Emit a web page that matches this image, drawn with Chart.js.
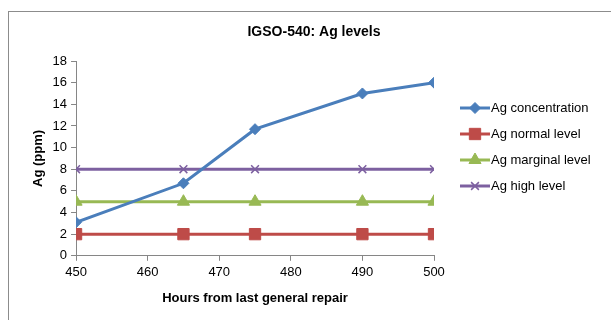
<!DOCTYPE html>
<html lang="en">
<head>
    <meta charset="UTF-8">
    <title>IGSO-540: Ag levels</title>
    <script src="https://cdn.jsdelivr.net/npm/chart.js"></script>
    <style>
        body {
            margin: 0;
            background-color: #ffffff;
            font-family: "Liberation Sans", Arial, sans-serif;
        }
        #frame {
            position: absolute;
            left: 8px;
            top: 11px;
            width: 620px;
            height: 330px;
            border: 1px solid #8c8c8c;
        }
        #wrap {
            position: absolute;
            left: 0;
            top: 0;
            width: 611px;
            height: 320px;
        }
    </style>
</head>
<body>
    <div id="frame"></div>
    <div id="wrap"><canvas id="agChart"></canvas></div>

    <script>
        const chartTitle = 'IGSO-540: Ag levels';
        const hours = [450, 465, 475, 490, 500];
        const agConcentration = [3.1, 6.7, 11.7, 15, 16];
        const agNormal = [2, 2, 2, 2, 2];
        const agMarginal = [5, 5, 5, 5, 5];
        const agHigh = [8, 8, 8, 8, 8];
        const seriesNames = ['Ag concentration', 'Ag normal level', 'Ag marginal level', 'Ag high level'];

        const toPoints = vals => hours.map((h, i) => ({ x: h, y: vals[i] }));

        // title + legend drawn by hand, the spreadsheet puts the title off centre
        const sideLegend = {
            id: 'sideLegend',
            afterDraw(chart) {
                const ctx = chart.ctx;
                ctx.save();
                ctx.fillStyle = '#000';
                ctx.font = 'bold 14px "Liberation Sans", Arial, sans-serif';
                ctx.textAlign = 'center';
                ctx.textBaseline = 'middle';
                ctx.fillText(chartTitle, 314, 32);
                ctx.restore();

                const x0 = 460, y0 = 108, gap = 26;
                chart.data.datasets.forEach((ds, i) => {
                    const y = y0 + i * gap;
                    ctx.save();
                    ctx.strokeStyle = ds.borderColor;
                    ctx.fillStyle = ds.borderColor;
                    ctx.lineWidth = 3;
                    ctx.beginPath();
                    ctx.moveTo(x0, y);
                    ctx.lineTo(x0 + 30, y);
                    ctx.stroke();
                    ctx.lineWidth = ds.pointBorderWidth;
                    Chart.helpers.drawPoint(ctx, {
                        pointStyle: ds.pointStyle,
                        radius: ds.pointRadius,
                        borderWidth: ds.pointBorderWidth
                    }, x0 + 15, y);
                    ctx.fillStyle = '#000';
                    ctx.font = '13px "Liberation Sans", Arial, sans-serif';
                    ctx.textBaseline = 'middle';
                    ctx.fillText(ds.label, x0 + 31, y);
                    ctx.restore();
                });
            }
        };

        const ds = (label, vals, color, style, r) => ({
            label: label,
            data: toPoints(vals),
            borderColor: color,
            backgroundColor: color,
            pointBackgroundColor: color,
            pointBorderColor: color,
            pointStyle: style,
            pointRadius: r,
            pointBorderWidth: style === 'crossRot' ? 1.5 : 1,
            borderWidth: 3,
            tension: 0
        });

        new Chart(document.getElementById('agChart'), {
            type: 'line',
            data: {
                datasets: [
                    ds(seriesNames[0], agConcentration, '#4a7ebb', 'rectRot', 5.5),
                    ds(seriesNames[1], agNormal, '#be4b48', 'rect', 8),
                    ds(seriesNames[2], agMarginal, '#98b954', 'triangle', 7),
                    ds(seriesNames[3], agHigh, '#7d60a0', 'crossRot', 5.5)
                ]
            },
            options: {
                responsive: true,
                maintainAspectRatio: false,
                animation: false,
                layout: { padding: { left: 27, right: 177, top: 61, bottom: 10 } },
                plugins: {
                    legend: { display: false },
                    tooltip: { enabled: false }
                },
                scales: {
                    x: {
                        type: 'linear',
                        min: 450,
                        max: 500,
                        ticks: { stepSize: 10, color: '#000', font: { size: 13 }, padding: 4 },
                        grid: { drawOnChartArea: false, tickLength: 5, color: '#868686' },
                        border: { color: '#868686' },
                        title: {
                            display: true,
                            text: 'Hours from last general repair',
                            color: '#000',
                            font: { size: 13, weight: 'bold' },
                            padding: { top: 6 }
                        }
                    },
                    y: {
                        min: 0,
                        max: 18,
                        ticks: { stepSize: 2, color: '#000', font: { size: 13 }, padding: 4 },
                        grid: { drawOnChartArea: false, tickLength: 5, color: '#868686' },
                        border: { color: '#868686' },
                        title: {
                            display: true,
                            text: 'Ag (ppm)',
                            color: '#000',
                            font: { size: 13, weight: 'bold' },
                            padding: { bottom: 2 }
                        }
                    }
                }
            },
            plugins: [sideLegend]
        });
    </script>
</body>
</html>
